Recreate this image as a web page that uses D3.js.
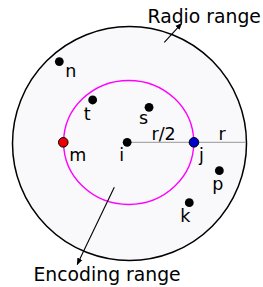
<!DOCTYPE html>
<html><head><meta charset="utf-8">
<script src="https://cdn.jsdelivr.net/npm/d3@7"></script>
<style>html,body{margin:0;padding:0;background:#fff;}svg{display:block;}</style>
</head><body>
<script>
// Node data in units of the radio range r (centre node i at origin)
const nodeNames = ["n", "t", "s", "m", "i", "j", "p", "k"];
const nodeX = [-0.60, -0.315, 0.167, -0.566, -0.02, 0.551, 0.768, 0.511];
const nodeY = [0.70, 0.372, 0.309, 0.01, 0.01, 0.01, -0.232, -0.506];
const nodeRole = ["plain", "plain", "plain", "left", "centre", "right", "plain", "plain"];
const radioRange = 1.0;
const encodingRangeX = 0.556;
const encodingRangeY = 0.53;
const rangeLabels = ["r/2", "r"];
const titles = ["Radio range", "Encoding range"];

const W = 263, H = 287;
const svg = d3.select("body").append("svg").attr("width", W).attr("height", H)
  .style("font-family", "DejaVu Sans, sans-serif");

const x = d3.scaleLinear().domain([-1, 1]).range([12.5, 246.5]);
const y = d3.scaleLinear().domain([-1, 1]).range([260.5, 26.5]);

const defs = svg.append("defs");
defs.append("marker").attr("id", "ah").attr("viewBox", "0 0 10 10")
  .attr("refX", 9).attr("refY", 5).attr("markerWidth", 7).attr("markerHeight", 7)
  .attr("orient", "auto").attr("markerUnits", "userSpaceOnUse")
  .append("path").attr("d", "M0,1 L10,5 L0,9 Z").attr("fill", "#000");

// outer radio range
svg.append("ellipse")
  .attr("cx", x(0)).attr("cy", y(0))
  .attr("rx", x(radioRange) - x(0)).attr("ry", y(0) - y(radioRange))
  .attr("fill", "#f9f9fc").attr("stroke", "#000").attr("stroke-width", 1.5);

// inner encoding range
const ci = nodeNames.indexOf("i");
svg.append("ellipse")
  .attr("cx", x(-0.007)).attr("cy", y(0.009))
  .attr("rx", x(encodingRangeX) - x(0)).attr("ry", y(0) - y(encodingRangeY))
  .attr("fill", "none").attr("stroke", "#ff00ff").attr("stroke-width", 1.4);

// radius line
svg.append("line")
  .attr("x1", x(nodeX[ci])).attr("y1", y(nodeY[ci]))
  .attr("x2", x(radioRange) - 0.5).attr("y2", y(nodeY[ci]))
  .attr("stroke", "#aaaaaa").attr("stroke-width", 1.3);

// range labels
svg.append("text").attr("x", 151.5).attr("y", 140).attr("font-size", 17.5).text(rangeLabels[0]);
svg.append("text").attr("x", 218.5).attr("y", 140).attr("font-size", 17.5).text(rangeLabels[1]);

// label offsets (px) per node
const labelOffset = {n: [6, 15], t: [-9, 20], s: [-10, 17], m: [6, 18.5], i: [-8, 18.5], j: [5, 18.5], p: [-7, 19], k: [-9, 19]};

const fills = {plain: "#000", left: "#ee0000", right: "#0000cc", centre: "#000"};
nodeNames.forEach((nm, idx) => {
  const cx = x(nodeX[idx]), cy = y(nodeY[idx]);
  const role = nodeRole[idx];
  const c = svg.append("circle").attr("cx", cx).attr("cy", cy)
    .attr("r", role === "left" || role === "right" ? 4.8 : 4.4)
    .attr("fill", fills[role]);
  if (role === "left" || role === "right") c.attr("stroke", "#000").attr("stroke-width", 1);
  svg.append("text").attr("x", cx + labelOffset[nm][0]).attr("y", cy + labelOffset[nm][1])
    .attr("font-size", 17.5).attr("fill", "#000").text(nm);
});

// annotation arrows
svg.append("line").attr("x1", 164.3).attr("y1", 42.3).attr("x2", 181.7).attr("y2", 23.3)
  .attr("stroke", "#000").attr("stroke-width", 1.1).attr("marker-end", "url(#ah)");
svg.append("line").attr("x1", 114.3).attr("y1", 187.3).attr("x2", 77.2).attr("y2", 264.5)
  .attr("stroke", "#000").attr("stroke-width", 1.1).attr("marker-end", "url(#ah)");

svg.append("text").attr("x", 147.5).attr("y", 22.5).attr("font-size", 18.8).text(titles[0]);
svg.append("text").attr("x", 33.5).attr("y", 281).attr("font-size", 18.8).text(titles[1]);
</script>
</body></html>
